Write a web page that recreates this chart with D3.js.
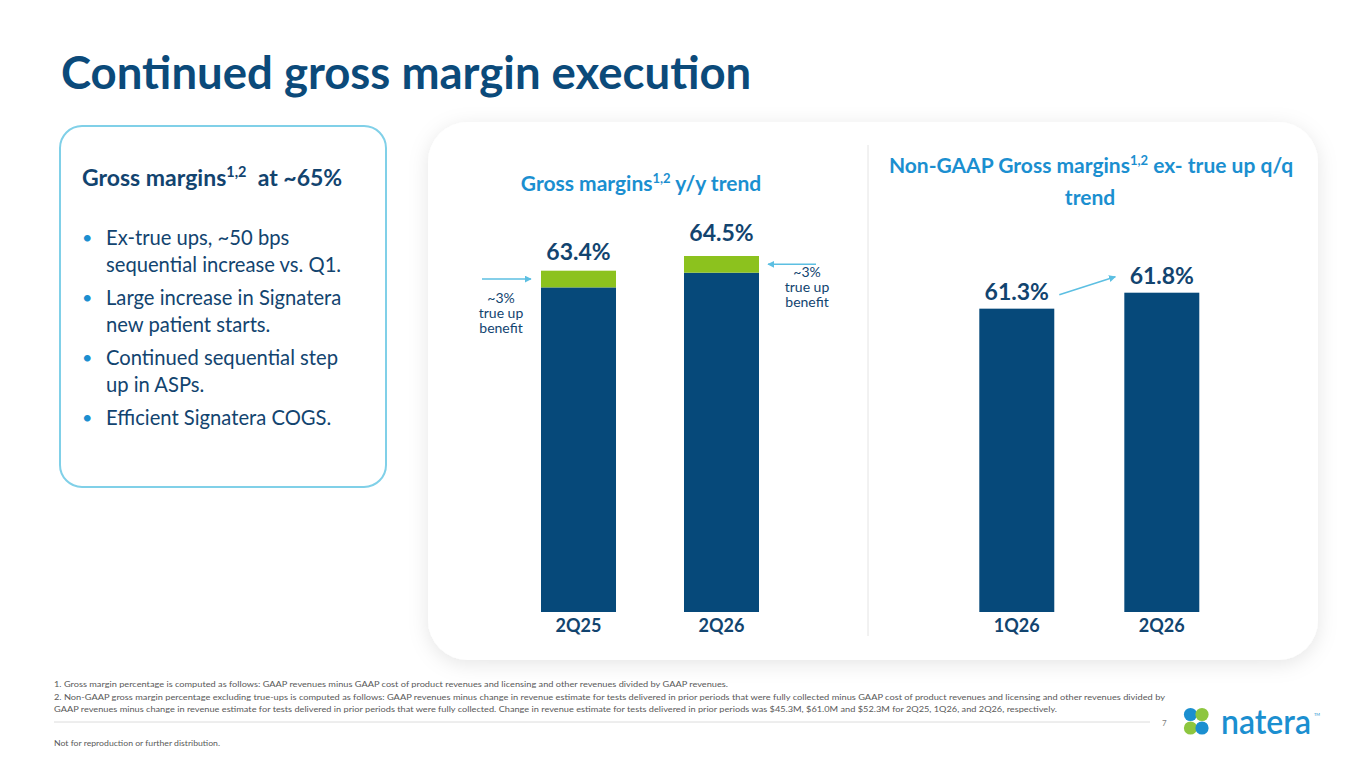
<!DOCTYPE html>
<html>
<head>
<meta charset="utf-8">
<script src="https://cdn.jsdelivr.net/npm/d3@7"></script>
<style>
  html, body { margin: 0; padding: 0; background: #ffffff; }
  svg { display: block; font-family: Lato, "Open Sans", sans-serif; }
</style>
</head>
<body>
<svg id="chart" width="1365" height="768"></svg>
<script>
// ---------- data ----------
const leftCategories = ["2Q25", "2Q26"];
const leftTotals = [63.4, 64.5];            // GAAP gross margin %
const leftTrueUp = [1.25, 1.25];            // green true-up segment (read on chart scale)
const leftLabels = ["63.4%", "64.5%"];

const rightCategories = ["1Q26", "2Q26"];
const rightValues = [61.3, 61.8];           // Non-GAAP ex true-up %
const rightLabels = ["61.3%", "61.8%"];

const bullets = [
  ["Ex-true ups, ~50 bps", "sequential increase vs. Q1."],
  ["Large increase in Signatera", "new patient starts."],
  ["Continued sequential step", "up in ASPs."],
  ["Efficient Signatera COGS."]
];
const footnotes = [
  "1. Gross margin percentage is computed as follows: GAAP revenues minus GAAP cost of product revenues and licensing and other revenues divided by GAAP revenues.",
  "2. Non-GAAP gross margin percentage excluding true-ups is computed as follows: GAAP revenues minus change in revenue estimate for tests delivered in prior periods that were fully collected minus GAAP cost of product revenues and licensing and other revenues divided by",
  "GAAP revenues minus change in revenue estimate for tests delivered in prior periods that were fully collected.  Change in revenue estimate for tests delivered in prior periods was $45.3M, $61.0M and $52.3M for 2Q25, 1Q26, and 2Q26, respectively."
];

// ---------- styles ----------
const NAVY = "#06497a";
const TEXT_NAVY = "#12446f";
const GREEN = "#8cc21e";
const LIGHT_BLUE = "#1b8fd0";
const ARROW = "#5cbfe2";

const svg = d3.select("#chart");
const defs = svg.append("defs");
const f = defs.append("filter").attr("id", "shadow")
  .attr("x", "-10%").attr("y", "-10%").attr("width", "120%").attr("height", "125%");
f.append("feDropShadow").attr("dx", 0).attr("dy", 4).attr("stdDeviation", 10)
  .attr("flood-color", "#000").attr("flood-opacity", 0.10);

defs.append("marker").attr("id", "arr")
  .attr("viewBox", "0 0 10 10").attr("refX", 9).attr("refY", 5)
  .attr("markerWidth", 7).attr("markerHeight", 7).attr("orient", "auto-start-reverse")
  .attr("markerUnits", "userSpaceOnUse")
  .append("path").attr("d", "M0,0 L10,5 L0,10 z").attr("fill", ARROW);

// ---------- title ----------
svg.append("text").attr("x", 61).attr("y", 89)
  .attr("font-size", 45.5).attr("font-weight", 700).attr("fill", "#0b4a7a")
  .text("Continued gross margin execution");

// ---------- left box ----------
svg.append("rect").attr("x", 60).attr("y", 126).attr("width", 326).attr("height", 361)
  .attr("rx", 22).attr("fill", "#fff").attr("stroke", "#80d0e8").attr("stroke-width", 2);

const h = svg.append("text").attr("x", 82).attr("y", 186)
  .attr("font-size", 23).attr("font-weight", 700).attr("fill", TEXT_NAVY);
h.append("tspan").text("Gross margins");
h.append("tspan").attr("font-size", 14.5).attr("dy", -9).text("1,2");
h.append("tspan").attr("dy", 9).text("\u00a0 at ~65%");

let ly = 245;
bullets.forEach(lines => {
  svg.append("text").attr("x", 82).attr("y", ly - 1).attr("font-size", 18)
    .attr("fill", LIGHT_BLUE).text("\u2022");
  lines.forEach((ln, i) => {
    svg.append("text").attr("x", 106).attr("y", ly).attr("font-size", 20.2)
      .attr("fill", TEXT_NAVY).text(ln);
    ly += 27;
  });
  ly += 6;
});

// ---------- chart panel ----------
svg.append("rect").attr("x", 428).attr("y", 122).attr("width", 890).attr("height", 538)
  .attr("rx", 40).attr("fill", "#fff").attr("filter", "url(#shadow)");
svg.append("line").attr("x1", 868).attr("x2", 868).attr("y1", 145).attr("y2", 636)
  .attr("stroke", "#e4e4e4").attr("stroke-width", 1);

// titles
const t1 = svg.append("text").attr("x", 641).attr("y", 191).attr("text-anchor", "middle")
  .attr("font-size", 21).attr("font-weight", 700).attr("fill", LIGHT_BLUE);
t1.append("tspan").text("Gross margins");
t1.append("tspan").attr("font-size", 13).attr("dy", -8).text("1,2");
t1.append("tspan").attr("dy", 8).text(" y/y trend");

const t2 = svg.append("text").attr("x", 1091).attr("y", 173).attr("text-anchor", "middle")
  .attr("font-size", 21).attr("font-weight", 700).attr("fill", LIGHT_BLUE);
t2.append("tspan").text("Non-GAAP Gross margins");
t2.append("tspan").attr("font-size", 13).attr("dy", -8).text("1,2");
t2.append("tspan").attr("dy", 8).text(" ex- true up q/q");
svg.append("text").attr("x", 1090).attr("y", 205).attr("text-anchor", "middle")
  .attr("font-size", 21).attr("font-weight", 700).attr("fill", LIGHT_BLUE).text("trend");

const BASE = 612;

// ---------- left chart ----------
const xL = d3.scaleBand().domain(leftCategories).range([507, 793])
  .paddingInner(0.4755).paddingOuter(0.2378);
const yL = d3.scaleLinear().domain([37.85, 64.5]).range([BASE, 256]);

const leftData = leftCategories.map((c, i) => ({
  c, total: leftTotals[i], ex: leftTotals[i] - leftTrueUp[i], label: leftLabels[i]
}));
const gL = svg.append("g");
gL.selectAll("rect.ex").data(leftData).join("rect").attr("class", "ex")
  .attr("x", d => xL(d.c)).attr("width", xL.bandwidth())
  .attr("y", d => yL(d.ex)).attr("height", d => BASE - yL(d.ex)).attr("fill", NAVY);
gL.selectAll("rect.tu").data(leftData).join("rect").attr("class", "tu")
  .attr("x", d => xL(d.c)).attr("width", xL.bandwidth())
  .attr("y", d => yL(d.total)).attr("height", d => yL(d.ex) - yL(d.total)).attr("fill", GREEN);
gL.selectAll("text.lbl").data(leftData).join("text").attr("class", "lbl")
  .attr("x", d => xL(d.c) + xL.bandwidth() / 2).attr("y", (d, i) => yL(d.total) - (i ? 15 : 11))
  .attr("text-anchor", "middle").attr("font-size", 23).attr("font-weight", 700)
  .attr("fill", TEXT_NAVY).text(d => d.label);

const axL = svg.append("g").attr("transform", `translate(0,${BASE})`)
  .call(d3.axisBottom(xL).tickSize(0).tickPadding(7));
axL.select(".domain").remove();
axL.selectAll("text").attr("font-size", 18).attr("font-weight", 700)
  .attr("fill", TEXT_NAVY).attr("font-family", "Lato, sans-serif");

// annotations left
const d0 = leftData[0], d1 = leftData[1];
svg.append("line").attr("x1", 482).attr("x2", xL(d0.c) - 10)
  .attr("y1", yL((d0.total + d0.ex) / 2)).attr("y2", yL((d0.total + d0.ex) / 2))
  .attr("stroke", ARROW).attr("stroke-width", 1.5).attr("marker-end", "url(#arr)");
["~3%", "true up", "benefit"].forEach((s, i) => {
  svg.append("text").attr("x", 501).attr("y", 303 + i * 15).attr("text-anchor", "middle")
    .attr("font-size", 14).attr("fill", TEXT_NAVY).text(s);
});
svg.append("line").attr("x1", 816).attr("x2", xL(d1.c) + xL.bandwidth() + 9)
  .attr("y1", yL((d1.total + d1.ex) / 2)).attr("y2", yL((d1.total + d1.ex) / 2))
  .attr("stroke", ARROW).attr("stroke-width", 1.5).attr("marker-end", "url(#arr)");
["~3%", "true up", "benefit"].forEach((s, i) => {
  svg.append("text").attr("x", 807).attr("y", 277 + i * 15).attr("text-anchor", "middle")
    .attr("font-size", 14).attr("fill", TEXT_NAVY).text(s);
});

// ---------- right chart ----------
const xR = d3.scaleBand().domain(rightCategories).range([944.3, 1234.3])
  .paddingInner(0.483).paddingOuter(0.2414);
const yR = d3.scaleLinear().domain([51.8, 61.8]).range([BASE, 292.7]);
const rightData = rightCategories.map((c, i) => ({ c, v: rightValues[i], label: rightLabels[i] }));
const gR = svg.append("g");
gR.selectAll("rect").data(rightData).join("rect")
  .attr("x", d => xR(d.c)).attr("width", xR.bandwidth())
  .attr("y", d => yR(d.v)).attr("height", d => BASE - yR(d.v)).attr("fill", NAVY);
gR.selectAll("text.lbl").data(rightData).join("text").attr("class", "lbl")
  .attr("x", d => xR(d.c) + xR.bandwidth() / 2).attr("y", d => yR(d.v) - 9)
  .attr("text-anchor", "middle").attr("font-size", 23).attr("font-weight", 700)
  .attr("fill", TEXT_NAVY).text(d => d.label);
const axR = svg.append("g").attr("transform", `translate(0,${BASE})`)
  .call(d3.axisBottom(xR).tickSize(0).tickPadding(7));
axR.select(".domain").remove();
axR.selectAll("text").attr("font-size", 18).attr("font-weight", 700)
  .attr("fill", TEXT_NAVY).attr("font-family", "Lato, sans-serif");

svg.append("line")
  .attr("x1", xR(rightData[0].c) + xR.bandwidth() + 5).attr("y1", yR(rightData[0].v) - 14)
  .attr("x2", xR(rightData[1].c) - 9).attr("y2", yR(rightData[1].v) - 16)
  .attr("stroke", ARROW).attr("stroke-width", 1.5).attr("marker-end", "url(#arr)");

// ---------- footnotes ----------
const fnY = [687, 700, 712];
const fnLen = [674, 1111, 1003];
footnotes.forEach((s, i) => {
  svg.append("text").attr("x", 54).attr("y", fnY[i]).attr("font-size", 8)
    .attr("fill", "#595959").attr("textLength", fnLen[i])
    .attr("lengthAdjust", "spacingAndGlyphs").text(s);
});
svg.append("line").attr("x1", 54).attr("x2", 1150).attr("y1", 722).attr("y2", 722)
  .attr("stroke", "#dcdcdc").attr("stroke-width", 1);
svg.append("text").attr("x", 1162).attr("y", 726).attr("font-size", 8)
  .attr("fill", "#7f7f7f").text("7");
svg.append("text").attr("x", 54).attr("y", 746).attr("font-size", 8)
  .attr("fill", "#595959").attr("textLength", 166).attr("lengthAdjust", "spacingAndGlyphs")
  .text("Not for reproduction or further distribution.");

// ---------- logo ----------
const logo = svg.append("g");
[[1190.5, 714.5, LIGHT_BLUE], [1202, 714.5, "#8dc63f"], [1190.5, 728, "#8dc63f"], [1202, 728, LIGHT_BLUE]]
  .forEach(([cx, cy, c]) => logo.append("circle").attr("cx", cx).attr("cy", cy).attr("r", 6.6).attr("fill", c));
logo.append("text").attr("x", 1221).attr("y", 734).attr("font-size", 34).attr("font-weight", 600)
  .attr("fill", LIGHT_BLUE).attr("textLength", 90).attr("lengthAdjust", "spacingAndGlyphs").text("natera");
logo.append("text").attr("x", 1314).attr("y", 716).attr("font-size", 4).attr("fill", LIGHT_BLUE).text("TM");
</script>
</body>
</html>
